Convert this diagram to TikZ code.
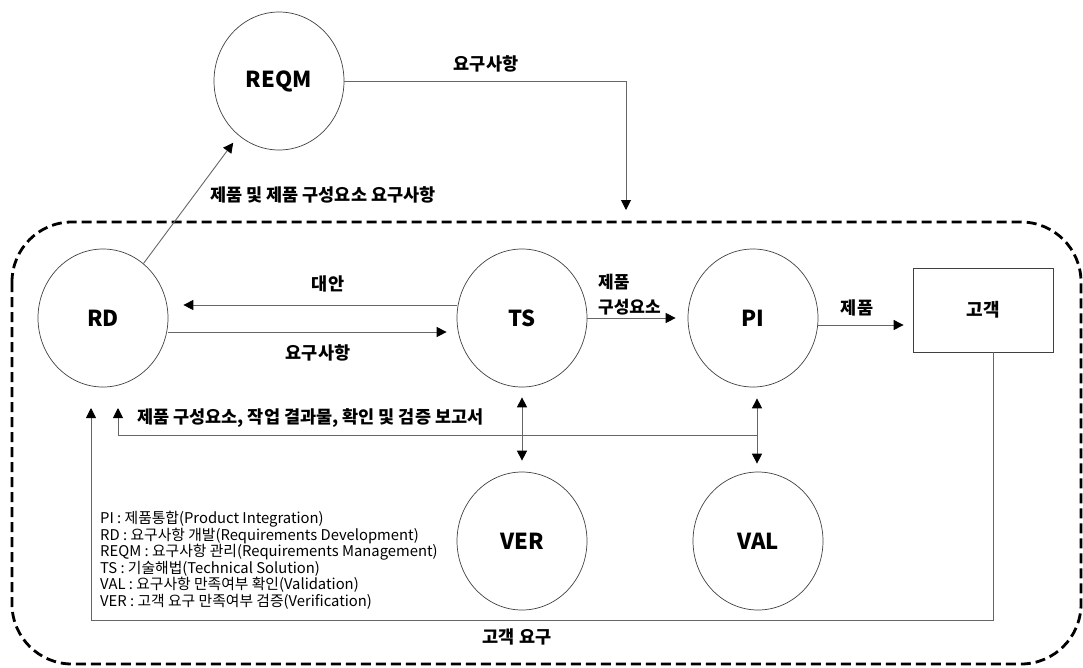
\documentclass[tikz,border=0pt]{standalone}
\usepackage{fontspec}
\setmainfont{Noto Sans CJK KR}
\usetikzlibrary{arrows.meta,shapes.geometric}
\tikzset{
  proc/.style={ellipse, draw=black!75, line width=0.7pt, minimum width=130pt, minimum height=138pt, inner sep=0pt, font=\fontsize{22}{24}\selectfont\bfseries},
  custbox/.style={rectangle, draw=black!75, line width=0.8pt, minimum width=140pt, minimum height=84pt, inner sep=0pt, font=\fontsize{18}{20}\selectfont\bfseries},
  conn/.style={draw=black!60, line width=0.9pt, -{Triangle[length=10pt,width=10pt,color=black]}},
  dconn/.style={draw=black!60, line width=0.9pt, {Triangle[length=10pt,width=10pt,color=black]}-{Triangle[length=10pt,width=10pt,color=black]}},
  lbl/.style={font=\fontsize{17.5}{20}\selectfont\bfseries, inner sep=0pt},
  legend/.style={font=\fontsize{14.8}{16.5}\selectfont, align=left, inner sep=0pt},
  border/.style={draw=black, line width=2.8pt, dash pattern=on 10pt off 5pt, rounded corners=60pt}
}
\begin{document}
\begin{tikzpicture}[x=1pt,y=-1pt]
\useasboundingbox (0,0) rectangle (1083,667);
% dashed boundary
\draw[border] (12,222) rectangle (1081,664);
% process nodes
\node[proc] (REQM) at (279,81) {REQM};
\node[proc] (RD) at (103,318) {RD};
\node[proc] (TS) at (522,318) {TS};
\node[proc] (PI) at (753,318) {PI};
\node[proc] (VER) at (522,541) {VER};
\node[proc] (VAL) at (758,541) {VAL};
\node[custbox] (cust) at (983,310) {고객};
% helper coordinates
\coordinate (down) at (626,210);
\coordinate (fbR) at (993,620);
\coordinate (fbL) at (91,620);
\coordinate (fbT) at (91,408);
\coordinate (jR) at (757,435);
\coordinate (jL) at (118,435);
\coordinate (jT) at (118,408);
% connectors
\draw[conn, shorten >=9pt] (RD) -- (REQM);
\draw[conn] (REQM.east) -| (down);
\draw[conn, shorten >=15pt] ([yshift=13pt]TS.west) -- ([yshift=13pt]RD.east);
\draw[conn, shorten >=10pt] ([yshift=-14pt]RD.east) -- ([yshift=-14pt]TS.west);
\draw[conn, shorten >=12pt] (TS.east) -- (PI.west);
\draw[conn, shorten >=9pt] ([yshift=-7pt]PI.east) -- ([yshift=-7pt]PI.east -| cust.west);
\draw[conn] (cust.south -| fbR) -- (fbR) -- (fbL) -- (fbT);
\draw[conn] (jR) -- (jL) -- (jT);
\draw[dconn, shorten <=10pt, shorten >=11pt] (TS.south) -- (VER.north);
\draw[dconn, shorten <=11pt, shorten >=8pt] (PI.south -| jR) -- (VAL.north -| jR);
% labels
\node[lbl] (l1) at (486,64) {요구사항};
\node[lbl, anchor=west] (l2) at (210,195) {제품 및 제품 구성요소 요구사항};
\node[lbl] (l3) at (328,284) {대안};
\node[lbl] (l4) at (318,353) {요구사항};
\node[lbl, anchor=west, align=left, font=\fontsize{17}{25}\selectfont\bfseries] (l5) at (598,295) {제품\\구성요소};
\node[lbl] (l6) at (857,308) {제품};
\node[lbl, anchor=west] (l7) at (137,418) {제품 구성요소, 작업 결과물, 확인 및 검증 보고서};
\node[lbl] (l8) at (517,637) {고객 요구};
\node[legend, anchor=north west] (leg) at (100,511) {PI : 제품통합(Product Integration)\\
RD : 요구사항 개발(Requirements Development)\\
REQM : 요구사항 관리(Requirements Management)\\
TS : 기술해법(Technical Solution)\\
VAL : 요구사항 만족여부 확인(Validation)\\
VER : 고객 요구 만족여부 검증(Verification)};
\end{tikzpicture}
\end{document}
